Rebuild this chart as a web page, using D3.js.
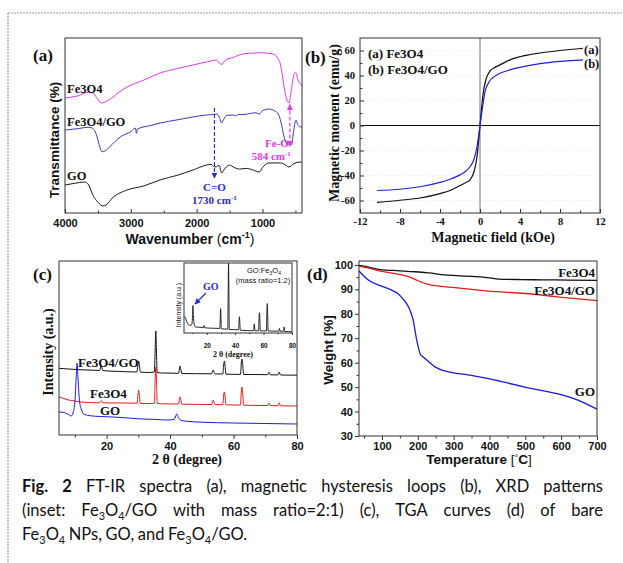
<!DOCTYPE html>
<html><head><meta charset="utf-8">
<script src="https://cdn.jsdelivr.net/npm/d3@7"></script>
<style>body{margin:0;background:#fff}svg{display:block}</style>
</head><body>
<svg id="fig" width="623" height="563"></svg>
<script>
// ---------- DATA ----------
// (a) FT-IR : [wavenumber cm-1, transmittance (a.u.)]
const irFe3O4 = [[4000,65.7],[3800,67.0],[3650,69.0],[3580,68.6],[3520,66.0],[3470,63.5],[3440,62.9],[3380,63.6],[3300,65.5],[3200,68.5],[3058,72],[2800,76],[2556,80],[2300,82.5],[2055,84.6],[1850,86.3],[1700,87.4],[1640,85.2],[1610,85.0],[1570,87.2],[1450,88.8],[1295,90.9],[1143,91.4],[1000,91.6],[900,91.2],[839,90.9],[760,88],[733,85.7],[700,79],[680,74],[640,66],[596,62.9],[570,68],[535,77],[500,80.5],[490,80],[460,76],[430,74],[400,72.6]];
const irFe3O4GO = [[4000,47.4],[3800,48.2],[3650,49.0],[3590,48.6],[3530,45.5],[3480,39],[3438,35],[3390,35.5],[3316,38],[3164,43.4],[3000,46.5],[2930,48.5],[2915,45.5],[2900,48],[2700,50],[2556,51.4],[2300,53.2],[2055,54.9],[1850,56],[1750,56.3],[1690,56.6],[1650,54],[1620,51.4],[1590,53.5],[1540,55.8],[1450,56],[1400,55.5],[1370,56.4],[1300,56.2],[1200,56.8],[1100,57.3],[1050,56.5],[1000,58.5],[900,59.4],[800,58.0],[760,56.6],[720,52],[672,43.4],[640,40],[616,38.9],[595,41],[580,40.6],[560,38.9],[530,46],[500,52.5],[490,53.1],[470,51],[440,49.5],[400,49.1]];
const irGO = [[4000,16],[3850,17],[3700,17.7],[3640,16],[3574,10],[3500,6.2],[3460,4.6],[3420,4],[3370,4.8],[3280,8.6],[3058,13.1],[2800,15.5],[2556,18.9],[2300,21.5],[2055,24.6],[1850,27.4],[1780,27.8],[1730,26.3],[1700,26.5],[1660,27.2],[1620,22.9],[1590,24.5],[1500,27.4],[1430,26],[1350,25.1],[1250,25.5],[1143,24.6],[1050,23.4],[1000,26],[900,28.6],[733,28.6],[650,27.5],[600,26.3],[520,28.3],[430,29.1],[400,29.1]];
const irTicks = [4000,3000,2000,1000];
const irMinor = [3500,2500,1500,500];
const irPeakCO = 1730, irPeakFeO = 584;

// (b) magnetization : [field kOe, moment emu/g]
const magFe3O4 = [[-10.3,-61.5],[-8,-59.8],[-6,-58],[-4,-54.5],[-3,-52],[-2,-48],[-1.5,-46],[-1,-43.5],[-0.6,-37],[-0.3,-25],[-0.1,-9],[0,0],[0.1,9],[0.3,25],[0.6,37],[1,43.5],[1.5,46.5],[2,48.5],[3,52.5],[4,55],[6,58],[8,60],[10.3,61.8]];
const magFe3O4GO = [[-10.3,-52],[-8,-51],[-6,-49],[-4,-45.5],[-3,-43],[-2,-39.5],[-1.5,-37],[-1,-33],[-0.6,-27],[-0.3,-17],[-0.1,-6],[0,0],[0.1,6],[0.3,17],[0.5,27],[1,36],[1.5,39.5],[2,41.8],[3,44.5],[4,46.5],[6,49.5],[8,51.3],[10.3,52.5]];
const magXTicks = [-12,-8,-4,0,4,8,12];
const magXMinor = [-10,-6,-2,2,6,10];
const magYTicks = [-60,-40,-20,0,20,40,60];
const magYMinor = [-50,-30,-10,10,30,50];

// (c) XRD : [2theta, intensity a.u.]
const xrdFe3O4GO = [[5,667],[8,660],[12,652],[16,648],[17.8,645],[18.3,700],[18.8,644],[22,638],[26,633],[29.5,630],[29.85,690],[30.1,740],[30.35,690],[30.7,628],[33,625],[35.05,630],[35.3,850],[35.5,1040],[35.7,850],[35.95,624],[38,620],[42.7,617],[42.95,660],[43.15,690],[43.4,655],[43.7,615],[48,613],[53.1,612],[53.4,640],[53.6,650],[53.85,630],[54.2,611],[56.6,610],[56.9,700],[57.1,740],[57.3,700],[57.6,608],[60,607],[62.2,606],[62.45,720],[62.65,760],[62.85,715],[63.2,605],[66,605],[70.8,603],[71.2,628],[71.6,602],[74,601],[74.4,630],[74.8,600],[80,598]];
const xrdFe3O4 = [[5,380],[6.5,365],[8,350],[10,340],[12,330],[17.8,322],[18.3,345],[18.8,321],[25,320],[29.6,318],[29.9,410],[30.1,450],[30.3,410],[30.6,316],[33,314],[35.05,318],[35.3,560],[35.5,680],[35.7,560],[35.95,316],[38,312],[42.7,310],[42.95,360],[43.15,380],[43.4,355],[43.7,308],[48,306],[53.1,305],[53.4,340],[53.6,350],[53.85,330],[54.2,304],[56.6,303],[56.9,400],[57.1,430],[57.3,400],[57.6,302],[60,300],[62.2,300],[62.45,440],[62.65,480],[62.85,430],[63.2,298],[66,296],[70.8,295],[71.2,318],[71.6,294],[74,293],[74.4,322],[74.8,292],[80,290]];
const xrdGO = [[5,230],[6,228],[7,220],[8,205],[8.8,190],[9.5,230],[10,330],[10.4,560],[10.7,720],[11,560],[11.4,360],[12,260],[13,205],[15,192],[18,185],[22,180],[26,172],[30,162],[35,156],[39,150],[41.3,155],[41.8,190],[42.1,210],[42.5,185],[43.2,150],[45,138],[50,128],[60,120],[70,115],[80,110]];
const xrdInset = [[4,170],[5,150],[6,110],[8,75],[9.6,85],[10,170],[10.3,270],[10.6,170],[11,100],[12,60],[16,55],[17.7,52],[18.1,75],[18.5,52],[22,48],[29.2,45],[29.5,150],[29.75,240],[30,150],[30.3,42],[34.8,38],[35.1,400],[35.35,690],[35.6,400],[35.9,35],[42.4,32],[42.75,120],[43,160],[43.25,110],[43.6,28],[53,22],[53.3,70],[53.5,90],[53.7,60],[54,22],[56.5,22],[56.8,150],[57.1,200],[57.35,140],[57.7,21],[62,20],[62.3,200],[62.6,290],[62.85,190],[63.2,20],[70.8,18],[71.2,45],[71.6,18],[74.1,18],[74.5,60],[74.9,16],[80,12]];
const xrdTicks = [20,40,60,80];
const xrdMinor = [10,30,50,70];

// (d) TGA : [temperature C, weight %]
const tgaFe3O4 = [[36,99.8],[60,99.2],[95,98.1],[150,97.6],[192,97.2],[230,96.7],[276,95.9],[320,95.5],[360,95.2],[400,94.7],[425,94.2],[490,94.0],[550,93.9],[620,93.8],[700,93.7]];
const tgaFe3O4GO = [[36,99.5],[60,98.8],[95,97.5],[130,96.6],[155,95.9],[178,95.0],[195,93.9],[211,92.9],[230,92.0],[248,91.5],[304,90.7],[350,90.0],[397,89.3],[450,88.8],[490,88.4],[540,87.8],[583,87.0],[640,86.2],[700,85.4]];
const tgaGO = [[36,97.5],[62,93.8],[95,91.5],[127,89.7],[145,88.2],[160,85.8],[174,82.9],[182,80],[188,76.8],[193,72.5],[197,69.3],[202,66],[206,63.8],[215,62.3],[225,61.1],[248,58.3],[276,56.6],[300,55.8],[332,55.2],[416,52.9],[508,49.7],[602,46.8],[658,44],[700,41]];
const tgaXTicks = [100,200,300,400,500,600,700];
const tgaXMinor = [50,150,250,350,450,550,650];
const tgaYTicks = [30,40,50,60,70,80,90,100];
const tgaYMinor = [35,45,55,65,75,85,95];

const captionLines = [
  ["*Fig.","*2","FT-IR","spectra","(a),","magnetic","hysteresis","loops","(b),","XRD","patterns"],
  ["(inset:","Fe_3O_4/GO","with","mass","ratio=2:1)","(c),","TGA","curves","(d)","of","bare"],
  ["Fe_3O_4","NPs,","GO,","and","Fe_3O_4/GO."]
];

// ---------- DRAWING ----------
const SERIF = "'Liberation Serif','Times New Roman',serif";
const SANS = "'Liberation Sans',Arial,sans-serif";
const svg = d3.select("#fig");

svg.append("line").attr("x1",8).attr("y1",13).attr("x2",623).attr("y2",13)
  .attr("stroke","#9a9a9a").attr("stroke-width",1.2).attr("stroke-dasharray","2,1");
svg.append("line").attr("x1",8).attr("y1",13).attr("x2",8).attr("y2",563)
  .attr("stroke","#9a9a9a").attr("stroke-width",1.2).attr("stroke-dasharray","2,1");

const defs = svg.append("defs");
function marker(id,color){
  defs.append("marker").attr("id",id).attr("viewBox","0 0 10 10").attr("refX",9).attr("refY",5)
    .attr("markerWidth",6).attr("markerHeight",6).attr("markerUnits","userSpaceOnUse")
    .attr("orient","auto-start-reverse")
    .append("path").attr("d","M0,0L10,5L0,10z").attr("fill",color);
}
marker("arBlue","#2a2ad0"); marker("arMag","#e23ce2");

function txt(x,y,s,font,size,fill,anchor,weight){
  return svg.append("text").attr("x",x).attr("y",y).text(s)
    .attr("font-family",font).attr("font-size",size).attr("fill",fill||"#111")
    .attr("text-anchor",anchor||"start").attr("font-weight",weight||"bold");
}
function rtxt(x,y,s,font,size,weight){
  return svg.append("text").attr("transform",`translate(${x},${y}) rotate(-90)`).text(s)
    .attr("font-family",font).attr("font-size",size).attr("fill","#111")
    .attr("text-anchor","middle").attr("font-weight",weight||"bold");
}
function axis(gen,tr,font,size){
  const g = svg.append("g").attr("transform",tr).call(gen);
  g.select(".domain").remove();
  g.selectAll("line").attr("stroke","#333");
  g.selectAll("text").attr("font-family",font).attr("font-size",size).attr("font-weight","bold").attr("fill","#111");
  return g;
}
function frame(x,y){
  svg.append("rect").attr("x",x.range()[0]).attr("y",y.range()[1])
    .attr("width",x.range()[1]-x.range()[0]).attr("height",y.range()[0]-y.range()[1])
    .attr("fill","none").attr("stroke","#333").attr("stroke-width",1);
}
function curve(data,x,y,color,w){
  const ln = d3.line().x(d=>x(d[0])).y(d=>y(d[1])).curve(d3.curveMonotoneX);
  svg.append("path").attr("d",ln(data)).attr("fill","none").attr("stroke",color)
    .attr("stroke-width",w||1).attr("stroke-linejoin","round");
}
const fmtInt = v => String(v);

// ===== (a) FT-IR =====
const xA = d3.scaleLinear([4000,400],[65,302]);
const yA = d3.scaleLinear([0,100],[213,38]);
curve(irFe3O4,xA,yA,"#e23ce2");
curve(irFe3O4GO,xA,yA,"#3a3ab8");
curve(irGO,xA,yA,"#1a1a1a");
axis(d3.axisBottom(xA).tickValues(irTicks).tickSize(-4).tickPadding(6).tickFormat(fmtInt),"translate(0,213)",SANS,11);
axis(d3.axisBottom(xA).tickValues(irMinor).tickSize(-2.5).tickFormat(""),"translate(0,213)",SANS,11);
frame(xA,yA);
txt(33,61,"(a)",SERIF,17);
rtxt(59,140,"Transmittance (%)",SANS,13.5);
{
  const t = txt(190,244,"Wavenumber ",SANS,14,"#111","middle");
  t.append("tspan").text("(").attr("font-weight","normal");
  t.append("tspan").text("cm");
  t.append("tspan").text("-1").attr("font-size",9).attr("dy",-6);
  t.append("tspan").text(")").attr("dy",6).attr("font-weight","normal");
}
txt(67,93,"Fe3O4",SERIF,12.5);
txt(67,126,"Fe3O4/GO",SERIF,12.5);
txt(67,180,"GO",SERIF,12.5);
svg.append("line").attr("x1",xA(irPeakCO)).attr("x2",xA(irPeakCO)).attr("y1",yA(60)).attr("y2",yA(20))
  .attr("stroke","#2a2ad0").attr("stroke-width",1.2).attr("stroke-dasharray","4,2").attr("marker-end","url(#arBlue)");
txt(xA(irPeakCO),191,"C=O",SERIF,11,"#2a2ad0","middle");
{
  const t = txt(xA(irPeakCO),204,"1730 cm",SERIF,11,"#2a2ad0","middle");
  t.append("tspan").text("-1").attr("font-size",7).attr("dy",-4);
}
svg.append("line").attr("x1",xA(irPeakFeO)).attr("x2",xA(irPeakFeO)).attr("y1",yA(62)).attr("y2",yA(38))
  .attr("stroke","#e23ce2").attr("stroke-width",1.2).attr("stroke-dasharray","4,2")
  .attr("marker-start","url(#arMag)").attr("marker-end","url(#arMag)");
txt(xA(irPeakFeO)-1,147,"Fe-O",SERIF,11,"#e23ce2","end");
{
  const t = txt(xA(irPeakFeO)+1,160,"584 cm",SERIF,11,"#e23ce2","end");
  t.append("tspan").text("-1").attr("font-size",7).attr("dy",-4);
}

// ===== (b) magnetization =====
const xB = d3.scaleLinear([-12,12],[360,600]);
const yB = d3.scaleLinear([-70,70],[213,38]);
magYTicks.filter(v=>v!==0).forEach(v=>{
  svg.append("line").attr("x1",360).attr("x2",600).attr("y1",yB(v)).attr("y2",yB(v))
    .attr("stroke","#e2e2e2").attr("stroke-width",0.8).attr("stroke-dasharray","1,2");
});
svg.append("line").attr("x1",xB(0)).attr("x2",xB(0)).attr("y1",38).attr("y2",213).attr("stroke","#777").attr("stroke-width",1);
svg.append("line").attr("x1",360).attr("x2",600).attr("y1",yB(0)).attr("y2",yB(0)).attr("stroke","#111").attr("stroke-width",1.2);
curve(magFe3O4,xB,yB,"#111",1.2);
curve(magFe3O4GO,xB,yB,"#2020e0",1.2);
axis(d3.axisBottom(xB).tickValues(magXTicks).tickSize(-4).tickPadding(5).tickFormat(fmtInt),"translate(0,213)",SERIF,10.5);
axis(d3.axisBottom(xB).tickValues(magXMinor).tickSize(-2.5).tickFormat(""),"translate(0,213)",SERIF,10.5);
axis(d3.axisLeft(yB).tickValues(magYTicks).tickSize(-4).tickPadding(5).tickFormat(fmtInt),"translate(360,0)",SERIF,10.5);
axis(d3.axisLeft(yB).tickValues(magYMinor).tickSize(-2.5).tickFormat(""),"translate(360,0)",SERIF,10.5);
frame(xB,yB);
txt(305,63,"(b)",SERIF,17);
rtxt(339,123,"Magnetic moment (emu/g)",SERIF,14);
txt(493,242,"Magnetic field (kOe)",SERIF,14,"#111","middle");
txt(368,58,"(a) Fe3O4",SERIF,13);
txt(368,74,"(b) Fe3O4/GO",SERIF,13);
txt(584,54,"(a)",SERIF,12.5);
txt(584,68,"(b)",SERIF,12.5);

// ===== (c) XRD =====
const xC = d3.scaleLinear([5,80],[59,297]);
const yC = d3.scaleLinear([0,1740],[435,261]);
curve(xrdFe3O4GO,xC,yC,"#111");
curve(xrdFe3O4,xC,yC,"#e21b1b");
curve(xrdGO,xC,yC,"#1a1ae6");
axis(d3.axisBottom(xC).tickValues(xrdTicks).tickSize(4).tickPadding(3).tickFormat(fmtInt),"translate(0,435)",SANS,11);
axis(d3.axisBottom(xC).tickValues(xrdMinor).tickSize(2.5).tickFormat(""),"translate(0,435)",SANS,11);
frame(xC,yC);
txt(33,280,"(c)",SERIF,17);
rtxt(53,352,"Intensity (a.u.)",SERIF,14);
txt(187,464,"2 θ (degree)",SERIF,14,"#111","middle");
txt(78,367,"Fe3O4/GO",SERIF,13);
txt(90,398,"Fe3O4",SERIF,13);
txt(100,415,"GO",SERIF,13);

// inset
const xI = d3.scaleLinear([4,80],[184,292]);
const yI = d3.scaleLinear([0,690],[333,263]);
svg.append("rect").attr("x",184).attr("y",263).attr("width",108).attr("height",70).attr("fill","#fff");
curve(xrdInset,xI,yI,"#111",0.9);
axis(d3.axisBottom(xI).tickValues(xrdTicks).tickSize(2).tickPadding(8).tickFormat(fmtInt),"translate(0,333)",SANS,6.5);
axis(d3.axisBottom(xI).tickValues(xrdMinor).tickSize(1.2).tickFormat(""),"translate(0,333)",SANS,6.5);
frame(xI,yI);
{
  const t = txt(264,273,"GO:Fe",SANS,7.5,"#111","middle","normal");
  t.append("tspan").text("3").attr("font-size",5).attr("dy",1.5);
  t.append("tspan").text("O").attr("dy",-1.5);
  t.append("tspan").text("4").attr("font-size",5).attr("dy",1.5);
}
txt(263,283,"(mass ratio=1:2)",SANS,7.5,"#111","middle","normal");
txt(233,357,"2 θ (degree)",SERIF,8,"#111","middle");
rtxt(181,305,"Intensity (a.u.)",SANS,7,"normal");
txt(203,290,"GO",SERIF,10,"#2a2ad0");
svg.append("line").attr("x1",206).attr("y1",293).attr("x2",195).attr("y2",304)
  .attr("stroke","#2a2ad0").attr("stroke-width",1.2).attr("marker-end","url(#arBlue)");

// ===== (d) TGA =====
const xD = d3.scaleLinear([36,700],[359,597]);
const yD = d3.scaleLinear([30,101.6],[436,261]);
curve(tgaFe3O4,xD,yD,"#111",1.3);
curve(tgaFe3O4GO,xD,yD,"#e21b1b",1.3);
curve(tgaGO,xD,yD,"#1a1ae0",1.3);
axis(d3.axisBottom(xD).tickValues(tgaXTicks).tickSize(4).tickPadding(2).tickFormat(fmtInt),"translate(0,436)",SANS,11);
axis(d3.axisBottom(xD).tickValues(tgaXMinor).tickSize(2.5).tickFormat(""),"translate(0,436)",SANS,11);
axis(d3.axisLeft(yD).tickValues(tgaYTicks).tickSize(4).tickPadding(2).tickFormat(fmtInt),"translate(359,0)",SANS,11);
axis(d3.axisLeft(yD).tickValues(tgaYMinor).tickSize(2.5).tickFormat(""),"translate(359,0)",SANS,11);
frame(xD,yD);
txt(307,280,"(d)",SERIF,17);
rtxt(333,350,"Weight [%]",SANS,13.5);
{
  const t = txt(479,464,"Temperature ",SANS,13.5,"#111","middle");
  t.append("tspan").text("[").attr("font-weight","normal");
  t.append("tspan").text("°").attr("font-size",9).attr("dy",-3).attr("font-weight","normal");
  t.append("tspan").text("C").attr("dy",3);
  t.append("tspan").text("]").attr("font-weight","normal");
}
txt(595,277,"Fe3O4",SERIF,13,"#111","end");
txt(595,295,"Fe3O4/GO",SERIF,13,"#111","end");
txt(595,396,"GO",SERIF,13,"#111","end");

// ===== caption =====
const CAP_FONT = "Lato,'Open Sans',sans-serif", CAP_SIZE = 16.5;
function capWord(g,w){
  let bold = false;
  if (w.startsWith("*")) { bold = true; w = w.slice(1); }
  const t = g.append("text").attr("font-family",CAP_FONT).attr("font-size",CAP_SIZE)
    .attr("fill","#111").attr("font-weight",bold?"bold":"normal");
  const parts = w.split(/(_\d)/).filter(p=>p.length);
  let shifted = false;
  parts.forEach(p=>{
    if (p.startsWith("_")) {
      t.append("tspan").text(p.slice(1)).attr("font-size",CAP_SIZE*0.66).attr("dy",shifted?0:3.5);
      shifted = true;
    } else {
      t.append("tspan").text(p).attr("dy",shifted?-3.5:0);
      shifted = false;
    }
  });
  return t;
}
const capLeft = 22, capRight = 603, capBase = [492,516,540];
captionLines.forEach((words,i)=>{
  const g = svg.append("g");
  const nodes = words.map(w=>capWord(g,w));
  const widths = nodes.map(n=>n.node().getComputedTextLength());
  const total = d3.sum(widths);
  const gap = (i < captionLines.length-1) ? (capRight-capLeft-total)/(words.length-1) : 3.6;
  let x = capLeft;
  nodes.forEach((n,k)=>{ n.attr("x",x).attr("y",capBase[i]); x += widths[k]+gap; });
});
</script>
</body></html>
